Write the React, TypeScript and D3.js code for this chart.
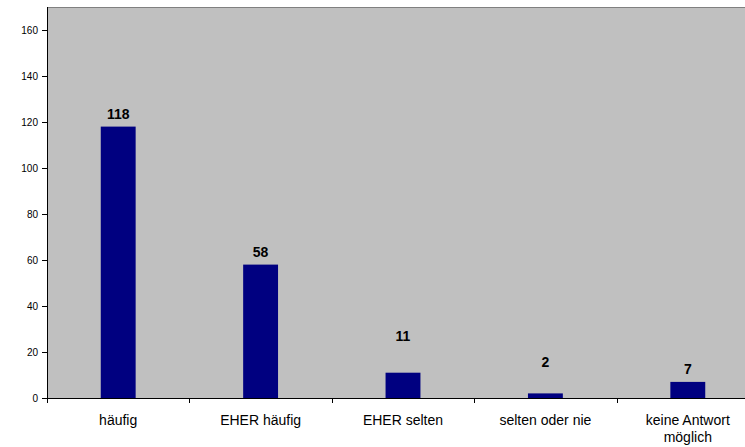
import * as d3 from "d3";

// answer categories (x axis), second line where the label wraps
const categories = ["häufig", "EHER häufig", "EHER selten", "selten oder nie", "keine Antwort möglich"];
const categoryLines = [["häufig"], ["EHER häufig"], ["EHER selten"], ["selten oder nie"], ["keine Antwort", "möglich"]];
const counts = [118, 58, 11, 2, 7];
const yTicks = [0, 20, 40, 60, 80, 100, 120, 140, 160];

const W = 745;
const H = 447;
const plot = { left: 47, top: 7, right: 759, bottom: 398 };
// some value labels were dragged up in the original
const labelRaise = [0, 0, 24, 18, 0];

const App = () => {
  const x = d3
    .scaleBand<string>()
    .domain(categories)
    .range([plot.left, plot.right])
    .padding(0);

  const y = d3.scaleLinear().domain([0, 170]).range([plot.bottom, plot.top]);

  const barW = x.bandwidth() * 0.245;
  const font = "'Liberation Sans', Arial, sans-serif";

  return (
    <svg
      width={W}
      height={H}
      style={{ position: "absolute", left: 0, top: 0, background: "#fff" }}
      fontFamily={font}
    >
      {/* plot area */}
      <rect
        x={plot.left}
        y={plot.top}
        width={plot.right - plot.left}
        height={plot.bottom - plot.top}
        fill="#C0C0C0"
      />
      <line x1={plot.left} x2={plot.right} y1={plot.top + 0.5} y2={plot.top + 0.5} stroke="#808080" />

      {/* bars */}
      {counts.map((v, i) => (
        <rect
          key={categories[i]}
          x={(x(categories[i]) ?? 0) + (x.bandwidth() - barW) / 2}
          y={y(v)}
          width={barW}
          height={plot.bottom - y(v)}
          fill="#000080"
        />
      ))}

      {/* value labels */}
      {counts.map((v, i) => (
        <text
          key={"l" + i}
          x={(x(categories[i]) ?? 0) + x.bandwidth() / 2}
          y={y(v) - 8 - labelRaise[i]}
          textAnchor="middle"
          fontSize={14}
          fontWeight="bold"
          fill="#000"
        >
          {v}
        </text>
      ))}

      {/* y axis */}
      <line x1={plot.left + 0.5} x2={plot.left + 0.5} y1={plot.top} y2={plot.bottom} stroke="#000" />
      {yTicks.map((t) => (
        <g key={t}>
          <line
            x1={plot.left - 5}
            x2={plot.left}
            y1={Math.round(y(t)) + 0.5}
            y2={Math.round(y(t)) + 0.5}
            stroke="#000"
          />
          <text x={38} y={y(t)} dy="0.35em" textAnchor="end" fontSize={10} fill="#000">
            {t}
          </text>
        </g>
      ))}

      {/* x axis */}
      <line x1={plot.left} x2={plot.right} y1={plot.bottom + 0.5} y2={plot.bottom + 0.5} stroke="#000" />
      {categories.map((c, i) => {
        const x0 = Math.round(x(c) ?? 0) + 0.5;
        return (
          <g key={"x" + c}>
            <line x1={x0} x2={x0} y1={plot.bottom} y2={plot.bottom + 5} stroke="#000" />
            <text
              x={(x(c) ?? 0) + x.bandwidth() / 2}
              y={425}
              textAnchor="middle"
              fontSize={14}
              fill="#000"
            >
              {categoryLines[i].map((line, k) => (
                <tspan key={k} x={(x(c) ?? 0) + x.bandwidth() / 2} dy={k === 0 ? 0 : 16.5}>
                  {line}
                </tspan>
              ))}
            </text>
          </g>
        );
      })}
    </svg>
  );
};

export default App;
